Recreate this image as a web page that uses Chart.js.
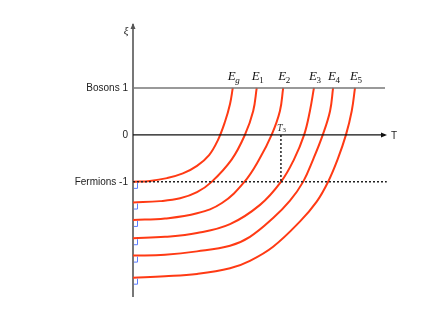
<!DOCTYPE html>
<html>
<head>
<meta charset="utf-8">
<script src="https://cdn.jsdelivr.net/npm/chart.js@4"></script>
<style>
  html, body { margin: 0; padding: 0; background: #fff; }
  #wrap { width: 427px; height: 320px; }
</style>
</head>
<body>
<div id="wrap"><canvas id="chart" width="427" height="320"></canvas></div>
<script>
// level names (subscripts) and curve data, T vs xi
var levelNames = ["g", "1", "2", "3", "4", "5"];

var egT  = [0, 0.67, 1.35, 1.98, 2.54, 3.02, 3.37, 3.65, 3.85, 3.96];
var egXi = [-1, -0.98, -0.92, -0.82, -0.66, -0.43, -0.11, 0.28, 0.66, 1];

var e1T  = [0, 1.07, 1.87, 2.54, 3.12, 3.92, 4.44, 4.77, 4.91];
var e1Xi = [-1.44, -1.41, -1.35, -1.22, -1, -0.52, 0, 0.51, 1];

var e2T  = [0, 1.27, 2.54, 3.53, 4.42, 5.01, 5.50, 5.83, 5.96];
var e2Xi = [-1.81, -1.78, -1.67, -1.45, -1, -0.52, 0, 0.51, 1];

var e3T  = [0, 1.27, 2.54, 3.85, 5.04, 5.87, 6.39, 6.79, 7.02, 7.18];
var e3Xi = [-2.20, -2.17, -2.09, -1.90, -1.49, -1, -0.52, 0, 0.51, 1];

var e4T  = [0, 1.27, 2.54, 3.85, 4.64, 5.56, 6.23, 6.75, 7.15, 7.53, 7.82, 7.94];
var e4Xi = [-2.57, -2.55, -2.48, -2.36, -2.17, -1.77, -1.40, -1, -0.52, 0, 0.51, 1];

var e5T  = [0, 1.27, 2.54, 3.85, 4.64, 5.56, 6.63, 7.29, 7.74, 8.12, 8.45, 8.68, 8.81];
var e5Xi = [-3.04, -3.01, -2.96, -2.84, -2.68, -2.38, -1.84, -1.42, -1, -0.52, 0, 0.51, 1];

var tickValues = [-1, 0, 1];
var tickLabels = ["Fermions -1", "0", "Bosons 1"];

var t3 = 5.87;      // marked temperature T3
var tMax = 10;
var xiMin = -3.43, xiMax = 2.34;

function pts(xs, ys) {
  return xs.map(function (x, i) { return { x: x, y: ys[i] }; });
}

var curves = [[egT, egXi], [e1T, e1Xi], [e2T, e2Xi], [e3T, e3Xi], [e4T, e4Xi], [e5T, e5Xi]];

var datasets = [
  { data: pts([0, tMax], [1, 1]), borderColor: "#777", borderWidth: 1.5 },
  { data: pts([0, tMax], [0, 0]), borderColor: "#111", borderWidth: 1.2 },
  { data: pts([0, tMax + 0.07], [-1, -1]), borderColor: "#222", borderWidth: 1.5, borderDash: [2, 2], clip: false },
  { data: pts([t3, t3], [0, -1]), borderColor: "#222", borderWidth: 1.5, borderDash: [2, 2] }
];
curves.forEach(function (c) {
  datasets.push({
    data: pts(c[0], c[1]),
    borderColor: "#ff3a14",
    borderWidth: 2,
    tension: 0.4
  });
});
datasets.forEach(function (d) { d.showLine = true; d.pointRadius = 0; });

var decor = {
  id: "decor",
  afterDatasetsDraw: function (chart) {
    var ctx = chart.ctx, xs = chart.scales.x, ys = chart.scales.y;
    var x0 = xs.getPixelForValue(0), y0 = ys.getPixelForValue(0);
    var xe = xs.getPixelForValue(tMax), yTop = ys.getPixelForValue(xiMax);
    var y1 = ys.getPixelForValue(1);
    ctx.save();
    // arrow heads
    ctx.fillStyle = "#111";
    ctx.beginPath();
    ctx.moveTo(xe + 2, y0); ctx.lineTo(xe - 4, y0 - 2.5); ctx.lineTo(xe - 4, y0 + 2.5);
    ctx.closePath(); ctx.fill();
    ctx.fillStyle = "#555";
    ctx.beginPath();
    ctx.moveTo(x0, yTop - 2); ctx.lineTo(x0 - 2.5, yTop + 4); ctx.lineTo(x0 + 2.5, yTop + 4);
    ctx.closePath(); ctx.fill();

    // axis names
    ctx.fillStyle = "#222";
    ctx.font = '10px "Liberation Sans"';
    ctx.textBaseline = "middle";
    ctx.textAlign = "left";
    ctx.fillText("T", xe + 6, y0 + 1);
    ctx.font = 'italic 11px "Liberation Serif"';
    ctx.textAlign = "center";
    ctx.fillText("\u03be", x0 - 7, yTop + 6);

    // right-angle marks at the start of each curve
    ctx.strokeStyle = "#5b7cff";
    ctx.lineWidth = 1;
    curves.forEach(function (c) {
      var py = ys.getPixelForValue(c[1][0]);
      ctx.beginPath();
      ctx.moveTo(x0 + 4.5, py + 1);
      ctx.lineTo(x0 + 4.5, py + 6.5);
      ctx.lineTo(x0 + 1, py + 6.5);
      ctx.stroke();
    });

    // level labels E_g, E_1 ...
    ctx.fillStyle = "#111";
    ctx.textBaseline = "alphabetic";
    ctx.textAlign = "left";
    curves.forEach(function (c, i) {
      var px = xs.getPixelForValue(c[0][c[0].length - 1]) - 5;
      var by = y1 - 7.5;
      ctx.font = 'italic 13px "Liberation Serif"';
      ctx.fillText("E", px, by);
      var w = ctx.measureText("E").width;
      ctx.font = (levelNames[i] === "g" ? "italic " : "") + '9px "Liberation Serif"';
      ctx.fillText(levelNames[i], px + w - 0.5, by + 2.5);
    });

    // T3 label
    var tx = xs.getPixelForValue(t3) - 4;
    ctx.font = 'italic 10px "Liberation Serif"';
    ctx.fillStyle = "#333";
    ctx.fillText("T", tx, y0 - 4);
    ctx.font = '7px "Liberation Serif"';
    ctx.fillText("3", tx + 5.5, y0 - 2.5);
    ctx.restore();
  }
};

new Chart(document.getElementById("chart"), {
  type: "scatter",
  data: { datasets: datasets },
  options: {
    responsive: false,
    animation: false,
    devicePixelRatio: 1,
    layout: { padding: { top: 25, right: 42, bottom: 24, left: 0 } },
    plugins: { legend: { display: false }, tooltip: { enabled: false } },
    scales: {
      x: { type: "linear", display: false, min: 0, max: tMax },
      y: {
        type: "linear",
        min: xiMin,
        max: xiMax,
        afterBuildTicks: function (scale) {
          scale.ticks = tickValues.map(function (v) { return { value: v }; });
        },
        afterFit: function (scale) { scale.width = 133; },
        grid: { display: false, drawTicks: false },
        border: { display: true, color: "#777", width: 2 },
        ticks: {
          padding: 5,
          color: "#222",
          font: { family: "Liberation Sans", size: 10 },
          callback: function (v) { return tickLabels[tickValues.indexOf(v)]; }
        }
      }
    }
  },
  plugins: [decor]
});
</script>
</body>
</html>
